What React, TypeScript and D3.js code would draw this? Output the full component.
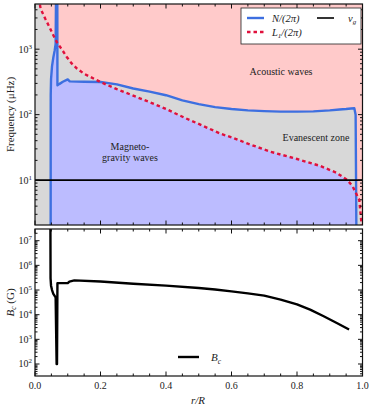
import React from 'react';
import * as d3 from 'd3';

// buoyancy frequency N/(2pi), µHz
const nR = [0.0478, 0.048, 0.049, 0.052, 0.056, 0.06, 0.063, 0.065, 0.068, 0.0685, 0.075, 0.085, 0.1, 0.106, 0.15, 0.2, 0.25, 0.3, 0.35, 0.4, 0.45, 0.5, 0.55, 0.6, 0.65, 0.7, 0.75, 0.8, 0.85, 0.9, 0.93, 0.95, 0.965, 0.975, 0.979, 0.982];
const nVal = [0.5, 200, 350, 550, 750, 950, 1200, 20000, 20000, 280, 295, 318, 345, 322, 318, 315, 290, 251, 225, 198, 165, 145, 130, 122, 116, 113, 111, 111, 112, 116, 120, 122, 124, 125, 100, 0.5];

// Lamb frequency L1/(2pi), µHz
const l1R = [0.012, 0.017, 0.031, 0.044, 0.056, 0.068, 0.082, 0.097, 0.112, 0.128, 0.15, 0.2, 0.25, 0.3, 0.35, 0.4, 0.46, 0.5, 0.567, 0.6, 0.65, 0.72, 0.8, 0.87, 0.92, 0.954, 0.97, 0.99, 1.0];
const l1Val = [6000, 4170, 2940, 2180, 1630, 1250, 990, 760, 605, 506, 420, 315, 245, 195, 155, 122, 88, 72, 51, 45, 36, 27, 21, 16.5, 13, 10, 8, 5, 1.5];

// critical field B_c, G
const bcR = [0.047, 0.0475, 0.049, 0.052, 0.056, 0.063, 0.066, 0.0672, 0.0685, 0.1, 0.105, 0.12, 0.2, 0.3, 0.4, 0.5, 0.55, 0.6, 0.65, 0.7, 0.75, 0.8, 0.84, 0.88, 0.92, 0.959];
const bcVal = [1e8, 3e5, 1.5e5, 1e5, 7e4, 5e4, 100, 100, 1.9e5, 1.9e5, 2.2e5, 2.45e5, 2.2e5, 1.8e5, 1.5e5, 1.2e5, 1.05e5, 8.8e4, 7.3e4, 5.9e4, 4.1e4, 2.6e4, 1.6e4, 8.8e3, 4.7e3, 2.5e3];

const nuG = 10;
const xTicks = [0, 0.2, 0.4, 0.6, 0.8, 1.0];
const freqExps = [1, 2, 3];
const bcExps = [2, 3, 4, 5, 6, 7];

const FONT = '"Liberation Serif", "DejaVu Serif", serif';
const L = 35, R = 362.5;
const T1 = 4, B1 = 225, T2 = 229, B2 = 376;

const x = d3.scaleLinear().domain([0, 1]).range([L, R]);
const yF = d3.scaleLog().domain([2.06, 4900]).range([B1, T1]);
const yB = d3.scaleLog().domain([32.6, 2.98e7]).range([B2, T2]);

const nPts: [number, number][] = nR.map((r, i) => [r, nVal[i]]);
const l1Pts: [number, number][] = l1R.map((r, i) => [r, l1Val[i]]);
const bcPts: [number, number][] = bcR.map((r, i) => [r, bcVal[i]]);

const lineF = d3.line<[number, number]>().x(d => x(d[0])).y(d => yF(d[1]));
const lineB = d3.line<[number, number]>().x(d => x(d[0])).y(d => yB(d[1]));

// closed region from plot bottom up to a curve, spanning the full width
function under(pts: [number, number][]) {
  const first = pts[0], last = pts[pts.length - 1];
  return `M${x(0)},${B1 + 5}L${x(0)},${yF(first[1])}` + lineF(pts)!.replace('M', 'L') +
    `L${x(1)},${yF(last[1])}L${x(1)},${B1 + 5}Z`;
}

function logTicks(domain: number[]) {
  const out: { v: number; major: boolean }[] = [];
  const [d0, d1] = domain;
  for (let e = Math.floor(Math.log10(d0)); e <= Math.ceil(Math.log10(d1)); e++) {
    for (let m = 1; m < 10; m++) {
      const v = m * Math.pow(10, e);
      if (v >= d0 && v <= d1) out.push({ v, major: m === 1 });
    }
  }
  return out;
}

function Frame({ y, top, bottom }: { y: any; top: number; bottom: number }) {
  const xs = d3.range(0, 21).map(i => i * 0.05);
  const ys = logTicks(y.domain());
  return (
    <g stroke="#111" fill="none">
      {xs.map((v, i) => {
        const len = i % 4 === 0 ? 4.5 : 2.5;
        return (
          <g key={'x' + i}>
            <line x1={x(v)} x2={x(v)} y1={bottom} y2={bottom - len} strokeWidth={1} />
            <line x1={x(v)} x2={x(v)} y1={top} y2={top + len} strokeWidth={1} />
          </g>
        );
      })}
      {ys.map((t, i) => {
        const len = t.major ? 4.5 : 2.5;
        return (
          <g key={'y' + i}>
            <line x1={L} x2={L + len} y1={y(t.v)} y2={y(t.v)} strokeWidth={1} />
            <line x1={R} x2={R - len} y1={y(t.v)} y2={y(t.v)} strokeWidth={1} />
          </g>
        );
      })}
      <rect x={L} y={top} width={R - L} height={bottom - top} strokeWidth={1.2} />
    </g>
  );
}

function Pow({ e, y }: { e: number; y: number }) {
  return (
    <text x={32} y={y + 3.5} textAnchor="end" fontSize={10} fill="#222">
      10<tspan dy={-4} fontSize={7}>{e}</tspan>
    </text>
  );
}

export default function App() {
  return (
    <svg width={374} height={410} style={{ position: 'absolute', left: 0, top: 0, background: '#fff' }} fontFamily={FONT}>
      <defs>
        <clipPath id="plotTop"><rect x={L} y={T1} width={R - L} height={B1 - T1} /></clipPath>
        <clipPath id="plotBot"><rect x={L} y={T2} width={R - L} height={B2 - T2} /></clipPath>
        <clipPath id="belowL1"><path d={under(l1Pts)} /></clipPath>
      </defs>

      {/* propagation diagram */}
      <g clipPath="url(#plotTop)">
        <rect x={L} y={T1} width={R - L} height={B1 - T1} fill="#ffcaca" />
        <path d={under(l1Pts)} fill="#d8d8d8" />
        <path d={under(nPts)} fill="#d8d8d8" />
        <g clipPath="url(#belowL1)">
          <path d={under(nPts)} fill="#bcbcff" />
        </g>
        <path d={lineF(nPts)!} fill="none" stroke="#3d6fe0" strokeWidth={2.4} strokeLinejoin="round" />
        <path d={lineF(l1Pts)!} fill="none" stroke="#e0103c" strokeWidth={2.4} strokeDasharray="3.5,3" />
        <line x1={L} x2={R} y1={yF(nuG)} y2={yF(nuG)} stroke="#000" strokeWidth={1.6} />
      </g>
      <Frame y={yF} top={T1} bottom={B1} />
      {freqExps.map(e => <Pow key={e} e={e} y={yF(Math.pow(10, e))} />)}

      <text x={281} y={75} textAnchor="middle" fontSize={10} fill="#222">Acoustic waves</text>
      <text x={316} y={141} textAnchor="middle" fontSize={10} fill="#222">Evanescent zone</text>
      <text x={130} y={150} textAnchor="middle" fontSize={10} fill="#222">Magneto-</text>
      <text x={130} y={161} textAnchor="middle" fontSize={10} fill="#222">gravity waves</text>

      <g>
        <rect x={241} y={8} width={120} height={36} fill="#fff" stroke="#222" strokeWidth={0.8} />
        <line x1={247} x2={264} y1={18} y2={18} stroke="#3d6fe0" strokeWidth={2.4} />
        <text x={272} y={21.5} fontSize={10.5} fontStyle="italic" fill="#222">N/(2π)</text>
        <line x1={317} x2={334} y1={18} y2={18} stroke="#000" strokeWidth={1.6} />
        <text x={348} y={21.5} fontSize={10.5} fontStyle="italic" fill="#222">ν<tspan dy={2.5} fontSize={7}>g</tspan></text>
        <line x1={247} x2={264} y1={32} y2={32} stroke="#e0103c" strokeWidth={2.4} strokeDasharray="3.5,3" />
        <text x={272} y={35.5} fontSize={10.5} fontStyle="italic" fill="#222">L<tspan dy={2.5} fontSize={7}>1</tspan><tspan dy={-2.5}>/(2π)</tspan></text>
      </g>

      <text transform={`translate(14,${(T1 + B1) / 2}) rotate(-90)`} textAnchor="middle" fontSize={11} fill="#222">Frequency (μHz)</text>

      {/* critical field */}
      <g clipPath="url(#plotBot)">
        <path d={lineB(bcPts)!} fill="none" stroke="#000" strokeWidth={2.4} strokeLinejoin="round" />
      </g>
      <Frame y={yB} top={T2} bottom={B2} />
      {bcExps.map(e => <Pow key={e} e={e} y={yB(Math.pow(10, e))} />)}
      <line x1={178} x2={199} y1={357} y2={357} stroke="#000" strokeWidth={2.4} />
      <text x={211} y={361} fontSize={11} fontStyle="italic" fill="#222">B<tspan dy={2.5} fontSize={7.5}>c</tspan></text>

      <text transform={`translate(14,${(T2 + B2) / 2}) rotate(-90)`} textAnchor="middle" fontSize={11} fill="#222">
        <tspan fontStyle="italic">B</tspan><tspan dy={2} fontSize={7.5} fontStyle="italic">c</tspan><tspan dy={-2}> (G)</tspan>
      </text>

      {xTicks.map(v => (
        <text key={v} x={x(v)} y={389} textAnchor="middle" fontSize={10} fill="#222">{v.toFixed(1)}</text>
      ))}
      <text x={198} y={404} textAnchor="middle" fontSize={11} fontStyle="italic" fill="#222">r/R</text>
    </svg>
  );
}
